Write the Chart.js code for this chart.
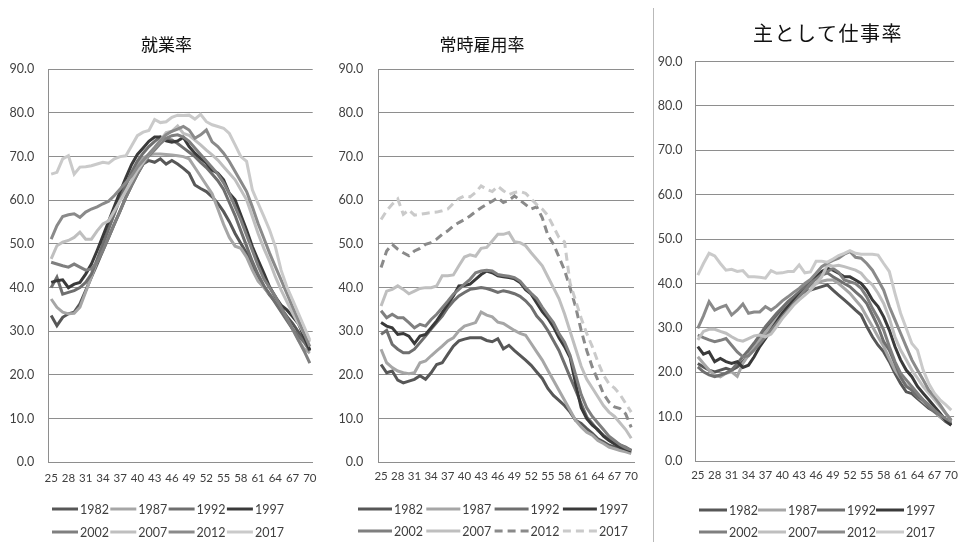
<!DOCTYPE html>
<html lang="ja">
<head>
<meta charset="UTF-8">
<title>就業率・常時雇用率・主として仕事率</title>
<script src="https://cdn.jsdelivr.net/npm/chart.js"></script>
<style>
  body { margin: 0; background: #fff; width: 965px; height: 542px; overflow: hidden; position: relative; }
  canvas { position: absolute; top: 0; }
  #sep { position: absolute; left: 653px; top: 8px; width: 1px; height: 534px; background: #b9b9b9; }
  .ttl { position: absolute; width: 240px; text-align: center; line-height: 1; color: #111;
         font-family: "Noto Sans CJK JP", sans-serif; white-space: nowrap; }
</style>
</head>
<body>
<canvas id="c1" width="330" height="542" style="left:0"></canvas>
<canvas id="c2" width="320" height="542" style="left:330px"></canvas>
<div id="sep"></div>
<canvas id="c3" width="310" height="542" style="left:655px"></canvas>
<div class="ttl" style="left:46.5px; top:35px; font-size:17px;">就業率</div>
<div class="ttl" style="left:362px; top:35px; font-size:17px;">常時雇用率</div>
<div class="ttl" style="left:708px; top:22.5px; font-size:20px; letter-spacing:1.5px;">主として仕事率</div>
<script>
// 年齢（横軸）
const ages = [25,26,27,28,29,30,31,32,33,34,35,36,37,38,39,40,41,42,43,44,45,46,47,
              48,49,50,51,52,53,54,55,56,57,58,59,60,61,62,63,64,65,66,67,68,69,70];
const years = ['1982','1987','1992','1997','2002','2007','2012','2017'];
const yTicks = [0,10,20,30,40,50,60,70,80,90];

// 就業率
const shugyo1982 = [33.6,31.3,33.2,34,34.4,36.3,39.3,42.4,45.4,48.5,51.5,54.6,57.6,60.7,63.4,66,68.3,69.1,68.7,69.5,68.3,69.1,68.3,67.3,66.2,63.5,62.7,62,60.8,59.3,57.4,55.1,52.4,50.1,47.9,44.8,42.5,40.2,38.3,36.8,35.3,33.4,31.8,29.9,28,25.7];
const shugyo1987 = [37.4,35.5,34.4,34,34.1,35.5,39,42.5,46,49.8,53.5,57,60.5,63.5,66,68.2,69.7,70.4,70.6,70.6,70.5,70.4,70.2,70,69.5,67.5,65.5,63.5,61.5,58,54.5,51.5,49.5,49,47,44,41.5,40,38.5,37,35,33,30.5,28,26,25];
const shugyo1992 = [40,42.4,38.5,38.9,39.3,40,41.2,43.1,46.5,50,53.5,57,60.5,63.5,66.5,69,70.8,72.3,73.5,74.5,74,73.8,73,72,71,70,68.7,67.5,66,64.5,62.5,59.5,56.5,53,49.5,46,43,40.5,38.5,36.5,34.5,32.5,30.5,29,27.5,25.5];
const shugyo1997 = [41.2,41.6,41.8,40,40.8,41.2,43.1,45.4,48.5,51.8,55.2,58.6,62,65.2,68.2,70.5,72,73.5,74.5,74.5,73.6,73.3,73.6,74.4,72.3,70.8,69.6,68.5,66.9,66.2,64.7,61.6,60.1,56.6,53.2,49.4,46.3,43.3,40.2,37.9,36,34.9,33.4,31.8,28.8,25.7];
const shugyo2002 = [45.8,45.4,45,44.7,45.4,44.7,44,44.3,45.8,48.5,51.5,54.6,57.6,60.7,63.4,66,68.3,70.2,71.5,73,74.2,74.8,75,74.5,73.5,72,70.5,69,67.5,66,64,61.5,58.5,55.5,52,48.5,45,42,40,38,35.5,33,30.5,28,25.5,22.7];
const shugyo2007 = [46.6,49.6,50.4,50.8,51.5,52.7,51.1,51.1,53,54.6,55.3,57.6,59.9,62.2,64.5,66.8,68.7,70.6,72.1,73.7,75.5,75.8,77,75.3,74.9,73.8,72.7,71.5,70.4,69.2,67.7,66.2,64.7,62.4,60.1,56.3,52.4,49,46,42.5,39.5,36.8,34.1,31.8,29.5,27.6];
const shugyo2012 = [51.1,54.2,56.3,56.7,56.9,56.1,57.3,58,58.5,59.2,59.8,61.1,62.6,64.1,65.6,67.6,69.1,70.6,72.1,73.7,75,75.8,76.3,76.9,76.1,74.2,75,76.1,73.4,72.3,70.8,68.9,66.6,64.3,62,58.5,54.7,51.3,47.9,44.8,41.8,38.7,35.6,32.6,29.5,26.5];
const shugyo2017 = [66,66.4,69.5,70.2,66,67.6,67.7,67.9,68.3,68.7,68.5,69.5,70,70.2,72.5,74.8,75.6,76,78.5,77.8,78,79,79.5,79.4,79.5,78.6,79.7,78,77.3,76.9,76.5,75.3,72.7,70,68.9,62.4,59.3,56.3,53.2,49.4,44,40.2,37.2,34.1,31.1,28];

// 常時雇用率
const joji1982 = [22.4,20.5,20.9,18.8,18.2,18.6,19,19.8,19,20.5,22.4,22.8,24.7,26.6,27.8,28.2,28.5,28.5,28.5,27.9,27.6,28.3,26,26.8,25.6,24.5,23.4,22.2,20.7,19.2,16.9,15.3,14.2,13,11.5,9.6,8.9,7.7,6.6,5.4,4.7,3.9,3.5,3.1,2.7,2.3];
const joji1987 = [25.9,22.8,21.7,20.9,20.5,20.3,20.5,22.8,23.2,24.4,25.5,26.6,27.8,28.5,30.1,31.2,31.6,32,34.4,33.7,33.3,32.1,31.8,31,30.2,29.5,29.1,27.2,25.3,23.4,21.1,18.8,16.5,14.2,11.9,9.6,8.1,6.9,6.2,5,4.3,3.5,3.1,2.7,2.4,2];
const joji1992 = [29.3,30.2,27,25.9,25.1,25.1,25.9,27.4,28.9,30.5,32,33.5,35.4,36.9,38.1,38.9,39.6,39.8,40,39.8,39.4,38.9,39.3,39,38.6,38,37,35.6,33.5,32.1,30.2,27.9,25.6,22.6,19.5,16.5,13.4,10.4,8.9,7.3,6.2,5.3,4.7,4,3.5,2.7];
const joji1997 = [32,31.2,30.8,29.3,29.5,28.9,27.2,28.9,29.3,30.8,32.4,34.3,36.2,38.1,40.4,40.5,40.8,41.9,43,43.8,43.4,42.7,42.5,42.3,42,41.2,39.5,38.5,36.5,34.5,33,31,28.5,26.5,24,18,12.5,10,8.5,7.5,6,5,4.2,3.5,3,2.6];
const joji2002 = [34.7,33.1,33.9,33.1,33.1,32,30.8,31.6,31.2,32.7,33.9,35.4,36.9,38.5,39.6,40.8,41.9,43.4,43.8,44,43.8,43,42.8,42.6,42.3,41.5,40,38.7,37.5,35.5,33.7,32,29.5,27.5,24.5,20,15.5,12.5,10.5,9,7.5,6,5,4,3.3,2.8];
const joji2007 = [35.8,39.2,39.6,40.4,39.6,38.6,39.2,39.8,40,40,40.4,42.7,42.7,42.9,45,47,47.5,47.2,49,49.2,50.7,52.2,52.2,52.6,50.5,50.3,49.6,48,46.5,45,42.5,40,37.5,34,30,26,22,19,17,15,13,11.5,10.5,9,7.5,5.5];
const joji2012 = [44.6,48.4,49.9,48.8,48,47.3,48.4,49,49.9,50.3,51.1,52.2,53,54.1,54.9,55.6,56.4,57.4,58.3,59.1,59.8,60.6,59.5,60,61,60,59,58,58.5,56,52,50,47,44,40,35.6,30.2,25.6,21.8,18.8,15.7,13.8,12.7,12.3,11.1,8];
const joji2017 = [55.6,57.6,59.1,60.3,56.8,57.8,56.6,56.8,57,57.2,57.3,57.6,58,59.3,60.4,61,60.8,61.8,63.3,62.5,62,63.2,62.2,61.3,61.8,62,61.6,60.3,59,58,56.5,54,51.5,50.5,41,37,33,29.5,26.5,23,20,18,17,15.5,13.5,11.5];

// 主として仕事率
const shu1982 = [22,21.2,20.5,20.1,20.5,20.9,20.5,21.2,22.4,23.9,26.1,28,29.5,31,32.7,34,35.1,36.3,37.4,38.1,38.5,38.9,39.3,39.7,38.5,37.4,36.3,35.2,34,32.9,30.3,28,26.1,24.6,22.4,19.8,17.5,15.6,15.2,14.1,13,11.9,11.2,10,8.9,8.1];
const shu1987 = [23.5,22,20.5,19.4,19,19.8,20.1,19.1,22,23.9,25.8,27.5,29,30.5,32,33.5,35,36,37.5,38.5,39.5,40,40.5,40.8,40.8,40,38.9,37.8,36.3,34.8,32.5,30.3,28,25.8,23.1,20.5,18.7,17.1,16,14.5,13.4,12.3,11.1,10,9.2,8.6];
const shu1992 = [21.2,20.1,19.4,19,19.4,19.8,20.5,22,23.5,25,26.6,28.4,30.3,31.8,33.3,34.6,35.9,37,38.1,39.3,40.4,41.2,41.9,42.4,41.5,40.8,40,39.3,38.1,37,35.5,32.9,30.3,26.9,25,22,19,16.8,16,14.5,13.8,12.3,11.1,10.4,9.2,8.5];
const shu1997 = [25.8,24.1,24.6,22.4,23.1,22.4,22,22.4,21.1,21.6,23.5,25.8,27.6,29.5,31.4,33.3,34.8,36.1,37.4,38.5,40,41.5,42.7,43.4,43,42.3,41.5,41.5,40.8,40,38.5,36.3,34.8,32.5,29.5,25.8,22.8,20.5,19,16.8,15.3,13.8,12.3,10.8,9.2,8.1];
const shu2002 = [28.4,27.8,27.3,26.9,27.2,27.6,26.1,24.6,23.5,23.7,25,26.5,28,29.5,31,32.5,34,35.5,37,38.5,40,41,42,42.7,43.4,42.5,40.8,40.4,40,38.9,37,34.4,32.2,29.5,25.8,22.4,19.8,18.3,16.8,15.3,13.8,12.7,11.5,10.4,9.6,8.9];
const shu2007 = [27.3,29.2,29.7,29.7,29.2,28.8,28,27.3,27,27.6,28.2,28.4,28,28.6,30.3,32.1,33.6,35.1,36.3,37.4,38.5,40,41.5,44.2,43.9,44.1,43.8,43.4,43,42.3,40.8,39.7,37.8,35.5,32.2,28,25,22.8,20.5,18.7,16.8,15.3,13.8,12.3,10.8,9.2];
const shu2012 = [29.9,32.7,35.9,34,34.6,35.1,32.9,34,35.4,33.3,33.6,33.6,34.8,34,34.9,36.1,37,38,38.9,40,40.9,42.3,43.8,44.6,45.2,45.7,46.6,47.2,45.9,45.7,44.5,43,40.8,38.5,34.8,31.8,28.8,25.8,22.8,20.5,18.3,16,14.5,12.7,10.8,9.2];
const shu2017 = [41.9,44.5,46.8,46.2,44.5,43,43.2,42.7,42.9,41.5,41.5,41.4,41.2,42.9,42.3,42.4,42.7,42.7,44.2,42.4,42.6,45,45,44.8,45.5,46.3,46.8,47.4,46.8,46.6,46.6,46.6,46.4,44.5,42.7,37.8,33.3,29.9,26.5,25,20.5,17.5,15.3,13.8,12.7,11.5];

const lineColors = ['#575757','#a6a6a6','#6f6f6f','#3a3a3a','#7f7f7f','#bfbfbf','#8a8a8a','#cacaca'];

// 凡例（線見本＋年）
const lineLegend = {
  id: 'lineLegend',
  afterDraw(chart, args, opts) {
    const ctx = chart.ctx;
    ctx.save();
    ctx.font = '12.5px Lato';
    ctx.textBaseline = 'middle';
    chart.data.datasets.forEach((ds, i) => {
      const x = opts.left + (i % 4) * opts.pitch;
      const y = opts.rows[Math.floor(i / 4)];
      ctx.strokeStyle = ds.borderColor;
      ctx.lineWidth = 3;
      ctx.setLineDash(ds.borderDash || []);
      ctx.beginPath();
      ctx.moveTo(x, y);
      ctx.lineTo(x + opts.sample, y);
      ctx.stroke();
      ctx.setLineDash([]);
      ctx.fillStyle = '#3f3f3f';
      ctx.fillText(ds.label, x + opts.sample + 2, y + 1);
    });
    ctx.restore();
  }
};

function makeChart(id, series, dashes, lay) {
  const datasets = series.map((data, i) => ({
    label: years[i],
    data: data,
    borderColor: lineColors[i],
    backgroundColor: lineColors[i],
    borderWidth: 3,
    borderDash: dashes[i],
    pointRadius: 0,
    tension: 0,
    order: series.length - i
  }));
  return new Chart(document.getElementById(id), {
    type: 'line',
    data: { labels: ages, datasets: datasets },
    plugins: [lineLegend],
    options: {
      responsive: false,
      animation: false,
      layout: { padding: { left: 0, right: lay.pr, top: lay.pt, bottom: lay.pb } },
      plugins: {
        legend: { display: false },
        tooltip: { enabled: false },
        lineLegend: lay.legend
      },
      scales: {
        x: {
          offset: true,
          afterFit: s => { s.height = 30; },
          grid: { display: false, drawTicks: false },
          border: { display: true, color: '#8e8e8e', width: 1 },
          ticks: {
            autoSkip: false, maxRotation: 0, minRotation: 0,
            padding: lay.xp, color: '#404040',
            font: { family: 'Lato', size: 11.5 },
            callback: (v, i) => (i % 3 === 0 ? ages[i] : '')
          }
        },
        y: {
          min: 0, max: 90,
          afterFit: s => { s.width = lay.yw; },
          afterBuildTicks: s => { s.ticks = yTicks.map(v => ({ value: v })); },
          grid: { color: '#8e8e8e', lineWidth: 1, drawTicks: false },
          border: { display: true, color: '#8e8e8e', width: 1 },
          ticks: {
            padding: lay.yp, color: '#404040',
            font: { family: 'Lato', size: 12.5 },
            callback: v => v.toFixed(1)
          }
        }
      }
    }
  });
}

const solid = [[],[],[],[],[],[],[],[]];
const dash2 = [[],[],[],[],[],[],[8,5],[8,5]];

makeChart('c1',
  [shugyo1982, shugyo1987, shugyo1992, shugyo1997, shugyo2002, shugyo2007, shugyo2012, shugyo2017], solid,
  { pr: 17.3, yw: 48.3, yp: 14, pt: 69.3, pb: 49.7, xp: 9,
    legend: { left: 52, pitch: 58.3, sample: 26, rows: [509, 532] } });

makeChart('c2',
  [joji1982, joji1987, joji1992, joji1997, joji2002, joji2007, joji2012, joji2017], dash2,
  { pr: 16, yw: 48.3, yp: 15, pt: 69.3, pb: 49.7, xp: 7.5,
    legend: { left: 28, pitch: 68.3, sample: 34, rows: [509, 531] } });

makeChart('c3',
  [shu1982, shu1987, shu1992, shu1997, shu2002, shu2007, shu2012, shu2017], solid,
  { pr: 5, yw: 40, yp: 12.5, pt: 61.5, pb: 50.9, xp: 7,
    legend: { left: 44, pitch: 59, sample: 28, rows: [510, 532] } });
</script>
</body>
</html>
